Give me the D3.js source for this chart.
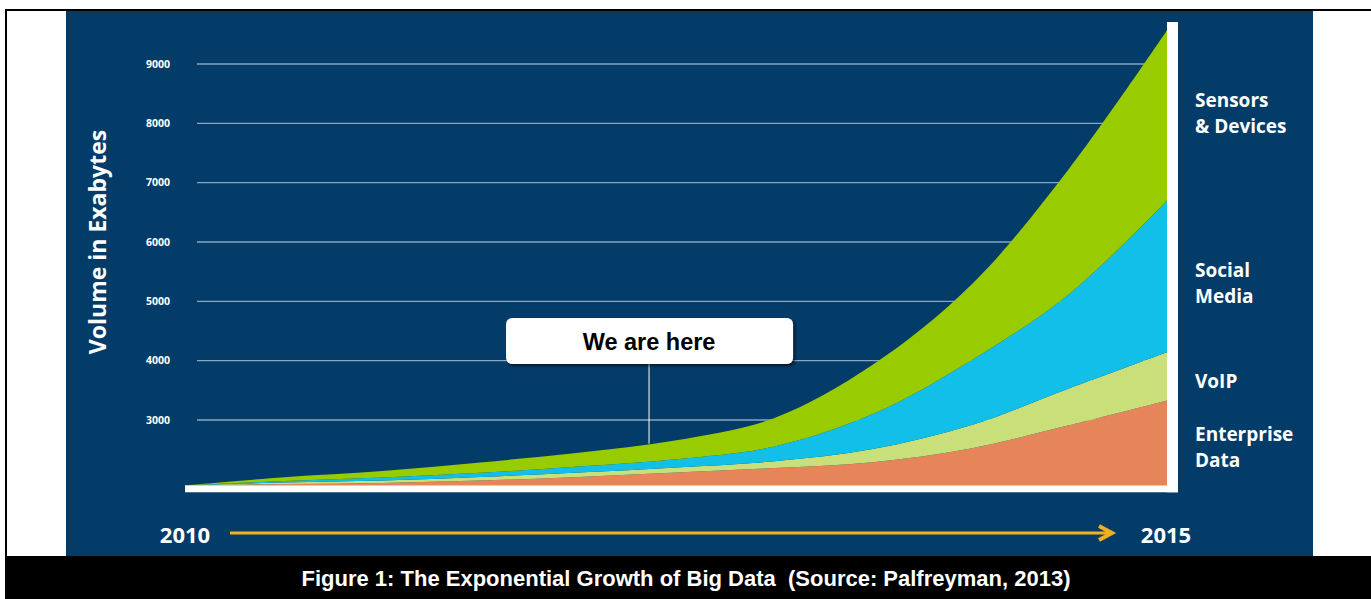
<!DOCTYPE html>
<html>
<head>
<meta charset="utf-8">
<script src="https://cdn.jsdelivr.net/npm/d3@7"></script>
<style>
    body { margin: 0; background: #fff; }
    svg { display: block; }
</style>
</head>
<body>
<div id="chart-area"></div>
<script>
// sample points (years)
var years = [2010, 2010.5, 2011, 2011.5, 2012, 2012.5, 2013, 2013.5, 2014, 2014.5, 2015];

// layer thickness in exabytes, bottom to top
var enterprise = [0, 20, 40, 80, 140, 215, 290, 390, 620, 1010, 1430];
var voip = [0, 25, 40, 60, 75, 85, 115, 220, 390, 620, 810];
var social = [0, 25, 50, 70, 100, 140, 250, 590, 1090, 1590, 2560];
var sensors = [0, 65, 110, 175, 235, 320, 480, 830, 1270, 2110, 2870];

var seriesNames = ["Enterprise Data", "VoIP", "Social Media", "Sensors & Devices"];
var yTicks = [3000, 4000, 5000, 6000, 7000, 8000, 9000];
var baseValue = 1900; // where the white base line sits on the axis
var yearLabels = ["2010", "2015"];
var calloutYear = 2012.36;
var calloutText = "We are here";
var caption = "Figure 1: The Exponential Growth of Big Data  (Source: Palfreyman, 2013)";

var colors = {
    "Enterprise Data": "#e6845a",
    "VoIP": "#c9df7a",
    "Social Media": "#12bfe8",
    "Sensors & Devices": "#99cc00"
};

var W = 1371, H = 599;
var svg = d3.select("#chart-area").append("svg")
    .attr("width", W)
    .attr("height", H);

// frame: white page, black border lines, blue slide, black caption bar
svg.append("rect").attr("width", W).attr("height", H).attr("fill", "#fff");
svg.append("rect").attr("x", 5).attr("y", 9).attr("width", W - 5).attr("height", 2).attr("fill", "#000");
svg.append("rect").attr("x", 5).attr("y", 9).attr("width", 2).attr("height", 550).attr("fill", "#000");
svg.append("rect").attr("x", 66).attr("y", 11).attr("width", 1247).attr("height", 546).attr("fill", "#033c68");
svg.append("rect").attr("x", 5).attr("y", 556).attr("width", W - 5).attr("height", H - 556).attr("fill", "#000");

var defs = svg.append("defs");
var shadow = defs.append("filter").attr("id", "shadow")
    .attr("x", "-10%").attr("y", "-20%").attr("width", "120%").attr("height", "150%");
shadow.append("feDropShadow")
    .attr("dx", 2).attr("dy", 2).attr("stdDeviation", 1.5)
    .attr("flood-color", "#000").attr("flood-opacity", 0.6);

// scales
var x = d3.scaleLinear()
    .domain([2010, 2015])
    .range([186, 1167]);

var y = d3.scaleLinear()
    .domain([3000, 9000])
    .range([420, 64]);

// gridlines + tick labels
svg.selectAll(".grid")
    .data(yTicks)
    .enter()
    .append("line")
    .attr("class", "grid")
    .attr("x1", 197)
    .attr("x2", x(2015))
    .attr("y1", (d) => y(d))
    .attr("y2", (d) => y(d))
    .attr("stroke", "#8da6c0")
    .attr("stroke-width", 1.3);

svg.selectAll(".tick-label")
    .data(yTicks)
    .enter()
    .append("text")
    .attr("class", "tick-label")
    .attr("x", 170)
    .attr("y", (d) => y(d) + 3.5)
    .attr("text-anchor", "end")
    .attr("font-family", "Open Sans")
    .attr("font-weight", 700)
    .attr("font-size", "10.5px")
    .attr("fill", "#fff")
    .text((d) => d);

// y title
svg.append("text")
    .attr("transform", "translate(106,242) rotate(-90)")
    .attr("text-anchor", "middle")
    .attr("font-family", "Open Sans")
    .attr("font-weight", 700)
    .attr("font-size", "23px")
    .attr("fill", "#fff")
    .text("Volume in Exabytes");

// stacked areas
var rows = years.map(function (yr, i) {
    return {
        year: yr,
        "Enterprise Data": enterprise[i],
        "VoIP": voip[i],
        "Social Media": social[i],
        "Sensors & Devices": sensors[i]
    };
});

var stacked = d3.stack().keys(seriesNames)(rows);

var area = d3.area()
    .x((d) => x(d.data.year))
    .y0((d) => y(baseValue + d[0]))
    .y1((d) => y(baseValue + d[1]))
    .curve(d3.curveCatmullRom.alpha(0.5));

svg.selectAll(".layer")
    .data(stacked)
    .enter()
    .append("path")
    .attr("class", "layer")
    .attr("d", area)
    .attr("fill", (d) => colors[d.key]);

// white base bar and right bar
svg.append("rect")
    .attr("x", x(2010) - 1)
    .attr("y", y(baseValue))
    .attr("width", x(2015) - x(2010) + 12)
    .attr("height", 7)
    .attr("fill", "#fff");
svg.append("rect")
    .attr("x", x(2015))
    .attr("y", 22)
    .attr("width", 11)
    .attr("height", y(baseValue) + 7 - 22)
    .attr("fill", "#fff");

// series labels on the right
var labelLines = [
    { lines: ["Sensors", "& Devices"], y: 107 },
    { lines: ["Social", "Media"], y: 277 },
    { lines: ["VoIP"], y: 388 },
    { lines: ["Enterprise", "Data"], y: 441 }
];
labelLines.forEach(function (l) {
    var t = svg.append("text")
        .attr("x", 1195)
        .attr("y", l.y)
        .attr("font-family", "Open Sans")
        .attr("font-weight", 700)
        .attr("font-size", "19px")
        .attr("fill", "#fff");
    l.lines.forEach(function (s, i) {
        t.append("tspan").attr("x", 1195).attr("dy", i == 0 ? 0 : 26).text(s);
    });
});

// callout
var stackTop = stacked[stacked.length - 1];
var cx = x(calloutYear);
var topAtCallout = d3.scaleLinear()
    .domain(years)
    .range(stackTop.map((d) => y(baseValue + d[1])))(calloutYear);

svg.append("line")
    .attr("x1", cx).attr("x2", cx)
    .attr("y1", 362).attr("y2", topAtCallout)
    .attr("stroke", "#fff")
    .attr("stroke-width", 1);

svg.append("rect")
    .attr("x", cx - 143)
    .attr("y", 318)
    .attr("width", 287)
    .attr("height", 46)
    .attr("rx", 6)
    .attr("fill", "#fff")
    .attr("filter", "url(#shadow)");

svg.append("text")
    .attr("x", cx)
    .attr("y", 350)
    .attr("text-anchor", "middle")
    .attr("font-family", "Liberation Sans, Arial")
    .attr("font-weight", 700)
    .attr("font-size", "23.5px")
    .attr("fill", "#000")
    .text(calloutText);

// time arrow
svg.append("line")
    .attr("x1", 230).attr("x2", 1111)
    .attr("y1", 533).attr("y2", 533)
    .attr("stroke", "#f2b01e")
    .attr("stroke-width", 3);
svg.append("polyline")
    .attr("points", "1099,526 1112,533 1099,540")
    .attr("fill", "none")
    .attr("stroke", "#f2b01e")
    .attr("stroke-width", 4)
    .attr("stroke-linejoin", "miter");

svg.selectAll(".year-label")
    .data(yearLabels)
    .enter()
    .append("text")
    .attr("class", "year-label")
    .attr("x", (d, i) => i == 0 ? 185 : 1166)
    .attr("y", 543)
    .attr("text-anchor", "middle")
    .attr("font-family", "Open Sans")
    .attr("font-weight", 700)
    .attr("font-size", "22px")
    .attr("fill", "#fff")
    .text((d) => d);

// caption (keeps the double space)
svg.append("text")
    .attr("x", 686)
    .attr("y", 586)
    .attr("text-anchor", "middle")
    .attr("font-family", "Liberation Sans, Arial")
    .attr("font-weight", 700)
    .attr("font-size", "22px")
    .attr("fill", "#fff")
    .style("white-space", "pre")
    .text(caption);
</script>
</body>
</html>
